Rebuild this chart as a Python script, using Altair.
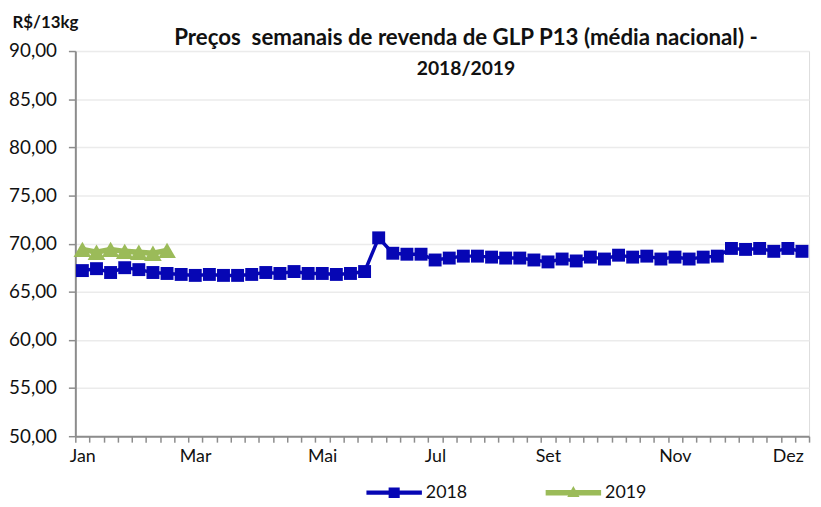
import altair as alt
import pandas as pd

# ---- data ----
semanas = list(range(52))
y2018 = [67.2, 67.4, 67.0, 67.5, 67.3, 67.0, 66.9, 66.8, 66.7, 66.8,
         66.7, 66.7, 66.8, 67.0, 66.9, 67.1, 66.9, 66.9, 66.8, 66.9,
         67.1, 70.6, 69.0, 68.9, 68.9, 68.3, 68.5, 68.7, 68.7, 68.6,
         68.5, 68.5, 68.3, 68.1, 68.4, 68.2, 68.6, 68.4, 68.8, 68.6,
         68.7, 68.4, 68.6, 68.4, 68.6, 68.7, 69.5, 69.4, 69.5, 69.2,
         69.5, 69.2]
y2019 = [69.4, 69.1, 69.4, 69.2, 69.1, 69.0, 69.3]
series = ["2018", "2019"]
colors = ["#0606B4", "#9BBB59"]
month_labels = ["Jan", "Mar", "Mai", "Jul", "Set", "Nov", "Dez"]
month_weeks = [0, 8, 17, 25, 33, 42, 50]
y_ticks = [50, 55, 60, 65, 70, 75, 80, 85, 90]
title_line1 = "Preços\u00a0 semanais de revenda de GLP P13 (média nacional) -"
title_line2 = "2018/2019"
y_title = "R$/13kg"

rows = [{"semana": i, "preco": v, "ano": "2018"} for i, v in enumerate(y2018)]
rows += [{"semana": i, "preco": v, "ano": "2019"} for i, v in enumerate(y2019)]
df = pd.DataFrame(rows)

FONT = "Lato"
GREY = "#8C8C8C"

boundaries = [k - 0.5 for k in range(len(semanas) + 1)]
label_expr = "".join(
    f"datum.value == {w - 0.5} ? '{m}' : " for m, w in zip(month_labels, month_weeks)
) + "''"

x_enc = alt.X(
    "semana:Q",
    scale=alt.Scale(domain=[-0.5, len(semanas) - 0.5], nice=False, zero=False),
    axis=alt.Axis(
        values=boundaries, labelExpr=label_expr, labelOffset=7,
        labelOverlap=False, labelFlush=False, labelBound=False,
        grid=False, tickSize=6, tickColor=GREY, tickWidth=1.5,
        domainColor=GREY, domainWidth=2, labelFontSize=18, labelFont=FONT,
        labelColor="#111111", labelPadding=6, title=None,
    ),
)
y_enc = alt.Y(
    "preco:Q",
    scale=alt.Scale(domain=[50, 90], nice=False, zero=False),
    axis=alt.Axis(
        values=y_ticks,
        labelExpr="replace(format(datum.value, '.2f'), '.', ',')",
        tickSize=7, tickColor=GREY, tickWidth=1.5,
        domainColor=GREY, domainWidth=2,
        gridColor="#EBEBEB", gridWidth=1.5,
        labelFontSize=19, labelFont=FONT, labelColor="#111111", labelPadding=12,
        title=y_title, titleAngle=0, titleX=-64, titleY=-24, titleAlign="left",
        titleBaseline="alphabetic", titleFontSize=17, titleFont=FONT,
        titleFontWeight="bold", titleColor="#111111",
    ),
)

# legend symbols: line + marker, as unit-box SVG paths
sq_path = ("M-1,-0.075 L1,-0.075 L1,0.075 L-1,0.075 Z "
           "M-0.2,-0.19 L0.2,-0.19 L0.2,0.19 L-0.2,0.19 Z")
tri_path = ("M-1,-0.1 L1,-0.1 L1,0.1 L-1,0.1 Z "
            "M-0.22,0.16 L0,-0.24 L0.22,0.16 Z")
legend_paths = [sq_path, tri_path]
legend_x = [294, 475]

base = alt.Chart(df)
lines = base.mark_line().encode(
    x=x_enc, y=y_enc,
    color=alt.Color("ano:N", scale=alt.Scale(domain=series, range=colors), legend=None),
    strokeWidth=alt.StrokeWidth("ano:N", scale=alt.Scale(domain=series, range=[3.5, 5.5]), legend=None),
)
points = base.mark_point(filled=True, opacity=1).encode(
    x=x_enc, y=y_enc,
    color=alt.Color("ano:N", scale=alt.Scale(domain=series, range=colors), legend=None),
    shape=alt.Shape("ano:N", scale=alt.Scale(domain=series, range=["square", "triangle-up"]), legend=None),
    size=alt.Size("ano:N", scale=alt.Scale(domain=series, range=[170, 320]), legend=None),
)

legend_layers = []
for s, c, p, lx in zip(series, colors, legend_paths, legend_x):
    legend_layers.append(
        base.transform_filter("false").mark_point(filled=True, color=c, opacity=1).encode(
            shape=alt.Shape(
                "ano:N", scale=alt.Scale(domain=[s], range=[p]),
                legend=alt.Legend(
                    title=None, orient="none", legendX=lx, legendY=418,
                    labelFontSize=18, labelFont=FONT, labelColor="#111111",
                    labelOffset=4, symbolSize=3136, symbolStrokeWidth=0,
                    symbolOpacity=1, symbolFillColor=c, padding=0,
                ),
            )
        )
    )

chart = alt.layer(lines, points, *legend_layers).resolve_scale(
    shape="independent"
).properties(
    width=741, height=389,
    padding={"left": 68, "top": 41, "right": 4, "bottom": 66},
    autosize=alt.AutoSizeParams(type="none"),
    title=alt.TitleParams(
        text=title_line1, font=FONT, fontSize=22.5, fontWeight="bold", color="#111111",
        subtitle=title_line2, subtitleFont=FONT, subtitleFontSize=19.5,
        subtitleFontWeight="bold", subtitleColor="#111111", subtitlePadding=11,
        anchor="middle", dx=24, baseline="top", offset=-66,
    ),
).configure_view(stroke=None).configure(background="white")

chart.save("out.html", embed_options={"renderer": "svg", "actions": False})
